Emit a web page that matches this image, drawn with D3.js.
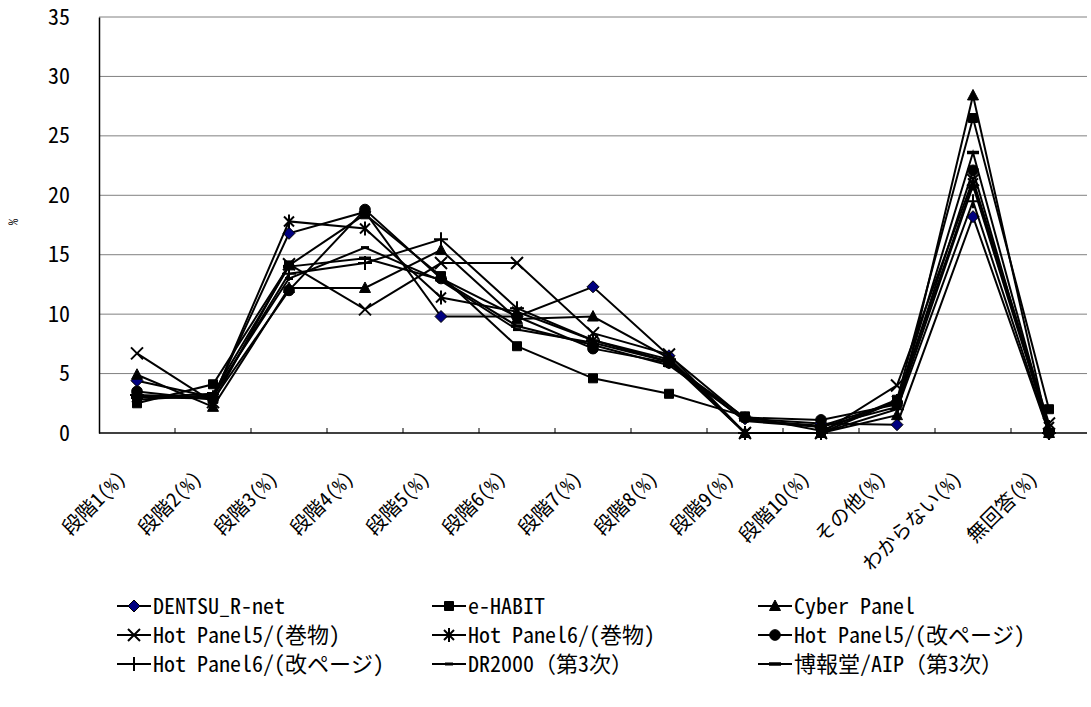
<!DOCTYPE html>
<html>
<head>
<meta charset="utf-8">
<script src="https://cdn.jsdelivr.net/npm/d3@7/dist/d3.min.js"></script>
<style>
  body { margin: 0; background: #fff; }
  text { font-family: "Noto Sans Mono CJK JP", "Noto Sans CJK JP", monospace; fill: #000; font-weight: normal; }
</style>
</head>
<body>
<div id="container"></div>
<script>
const width = 1091
const height = 707

const categories = ['段階1(%)', '段階2(%)', '段階3(%)', '段階4(%)', '段階5(%)', '段階6(%)',
  '段階7(%)', '段階8(%)', '段階9(%)', '段階10(%)', 'その他(%)', 'わからない(%)', '無回答(%)']
const yTicks = [0, 5, 10, 15, 20, 25, 30, 35]

// values
const dentsu = [4.4, 3.0, 16.8, 18.6, 9.8, 9.8, 12.3, 6.5, 1.2, 0.8, 0.7, 18.2, 0]
const eHabit = [2.5, 4.1, 14.1, 18.4, 13.2, 7.3, 4.6, 3.3, 1.4, 0.2, 2.8, 26.5, 2.0]
const cyberPanel = [4.9, 2.2, 12.2, 12.2, 15.4, 9.6, 9.8, 6.3, 0, 0, 1.5, 28.4, 0]
const hp5Scroll = [6.7, 2.6, 14.2, 10.4, 14.3, 14.3, 8.4, 6.6, 0, 0, 4.0, 21.3, 0.8]
const hp6Scroll = [3.0, 2.9, 17.8, 17.2, 11.4, 10.2, 7.8, 6.0, 0, 0, 2.7, 21.0, 0.5]
const hp5Page = [3.5, 2.8, 12.0, 18.8, 13.0, 9.8, 7.1, 5.9, 1.3, 1.1, 2.4, 22.1, 0]
const hp6Page = [3.2, 3.0, 13.4, 14.3, 16.3, 10.5, 7.8, 6.2, 0, 0, 2.0, 19.5, 0]
const dr2000 = [2.8, 3.2, 13.0, 15.6, 12.8, 8.7, 7.6, 6.0, 1.0, 0.5, 2.2, 20.8, 0.3]
const hakuhodo = [3.0, 3.3, 14.0, 14.7, 12.9, 9.0, 7.4, 5.7, 1.1, 0.6, 2.6, 23.6, 0.2]

const seriesNames = ['DENTSU_R-net', 'e-HABIT', 'Cyber Panel',
  'Hot Panel5/(巻物)', 'Hot Panel6/(巻物)', 'Hot Panel5/(改ページ)',
  'Hot Panel6/(改ページ)', 'DR2000（第3次）', '博報堂/AIP（第3次）']
const seriesValues = [dentsu, eHabit, cyberPanel, hp5Scroll, hp6Scroll, hp5Page, hp6Page, dr2000, hakuhodo]
const markerTypes = ['diamond', 'square', 'triangle', 'x', 'star', 'circle', 'plus', 'dash', 'bar']

const series = seriesNames.map((name, i) => ({ name, values: seriesValues[i], marker: markerTypes[i] }))

const svg = d3.select('#container')
  .append('svg')
  .attr('width', width)
  .attr('height', height)

const plot = { left: 99, right: 1087, top: 17, bottom: 433 }

const x = d3.scaleBand()
  .domain(categories)
  .range([plot.left, plot.right])
const cx = c => x(c) + x.bandwidth() / 2

const y = d3.scaleLinear()
  .domain([0, 35])
  .range([plot.bottom, plot.top])

// gridlines
svg.append('g')
  .selectAll('line')
  .data(yTicks.filter(t => t > 0))
  .enter()
  .append('line')
  .attr('x1', plot.left)
  .attr('x2', plot.right)
  .attr('y1', d => y(d))
  .attr('y2', d => y(d))
  .attr('stroke', '#808080')
  .attr('stroke-width', 1)

// y axis
const yAxis = svg.append('g')
  .attr('transform', `translate(${plot.left},0)`)
  .call(d3.axisLeft(y).tickValues(yTicks).tickSize(0).tickPadding(29))
yAxis.select('.domain').attr('stroke', '#000').attr('stroke-width', 1.5)
yAxis.selectAll('text')
  .style('font-size', '22px')
  .style('font-family', '"Noto Sans Mono CJK JP", "DejaVu Sans Mono", monospace')

svg.append('text')
  .attr('transform', 'translate(18,222) rotate(-90)')
  .attr('text-anchor', 'middle')
  .style('font-size', '13px')
  .text('%')

// x axis with ticks between categories
const xAxis = svg.append('g')
  .attr('transform', `translate(0,${plot.bottom})`)
xAxis.append('line')
  .attr('x1', plot.left)
  .attr('x2', plot.right)
  .attr('stroke', '#000')
  .attr('stroke-width', 1.5)
xAxis.selectAll('line.tick')
  .data(categories.slice(1))
  .enter()
  .append('line')
  .attr('class', 'tick')
  .attr('x1', d => x(d))
  .attr('x2', d => x(d))
  .attr('y1', 0)
  .attr('y2', -5)
  .attr('stroke', '#000')

svg.append('g')
  .selectAll('text')
  .data(categories)
  .enter()
  .append('text')
  .attr('transform', d => `translate(${cx(d) - 10},${plot.bottom + 47}) rotate(-45)`)
  .attr('text-anchor', 'end')
  .style('font-size', '20px')
  .text(d => d)

// marker shapes
function markerPath(type) {
  switch (type) {
    case 'diamond': return 'M0,-6L6,0L0,6L-6,0Z'
    case 'square': return 'M-4.5,-4.5H4.5V4.5H-4.5Z'
    case 'triangle': return 'M0,-6L5.5,4.5L-5.5,4.5Z'
    case 'x': return 'M-6,-6L6,6M-6,6L6,-6'
    case 'star': return 'M-5,-5L5,5M-5,5L5,-5M0,-7L0,7'
    case 'circle': return d3.symbol(d3.symbolCircle, 90)()
    case 'plus': return 'M-7,0L7,0M0,-7L0,7'
    case 'dash': return 'M-4,0L4,0'
    case 'bar': return 'M-6,0L6,0'
  }
}
function drawMarker(sel, type) {
  const filled = ['diamond', 'square', 'triangle', 'circle'].includes(type)
  sel.append('path')
    .attr('d', markerPath(type))
    .attr('fill', type === 'diamond' ? '#000080' : (filled ? '#000' : 'none'))
    .attr('stroke', '#000')
    .attr('stroke-width', type === 'bar' ? 3.5 : (type === 'dash' ? 3 : (filled ? 1 : 2)))
}

const line = d3.line()
  .x((d, i) => cx(categories[i]))
  .y(d => y(d))

const groups = svg.selectAll('g.series')
  .data(series)
  .enter()
  .append('g')
  .attr('class', 'series')

groups.append('path')
  .attr('d', d => line(d.values))
  .attr('fill', 'none')
  .attr('stroke', '#000')
  .attr('stroke-width', 2)

groups.each(function (s) {
  const g = d3.select(this)
  s.values.forEach((v, i) => {
    const m = g.append('g').attr('transform', `translate(${cx(categories[i])},${y(v)})`)
    drawMarker(m, s.marker)
  })
})

// legend
const legendCols = [117, 432, 758]
const legendRows = [606, 635, 664]
const legend = svg.selectAll('g.legend')
  .data(series)
  .enter()
  .append('g')
  .attr('class', 'legend')
  .attr('transform', (d, i) => `translate(${legendCols[i % 3]},${legendRows[Math.floor(i / 3)]})`)

legend.append('line')
  .attr('x1', 0)
  .attr('x2', 34)
  .attr('stroke', '#000')
  .attr('stroke-width', 2)
legend.each(function (s) {
  const m = d3.select(this).append('g').attr('transform', 'translate(17,0)')
  drawMarker(m, s.marker)
})
legend.append('text')
  .attr('x', 36)
  .attr('dy', '0.35em')
  .style('font-size', '22px')
  .text(d => d.name)
</script>
</body>
</html>
